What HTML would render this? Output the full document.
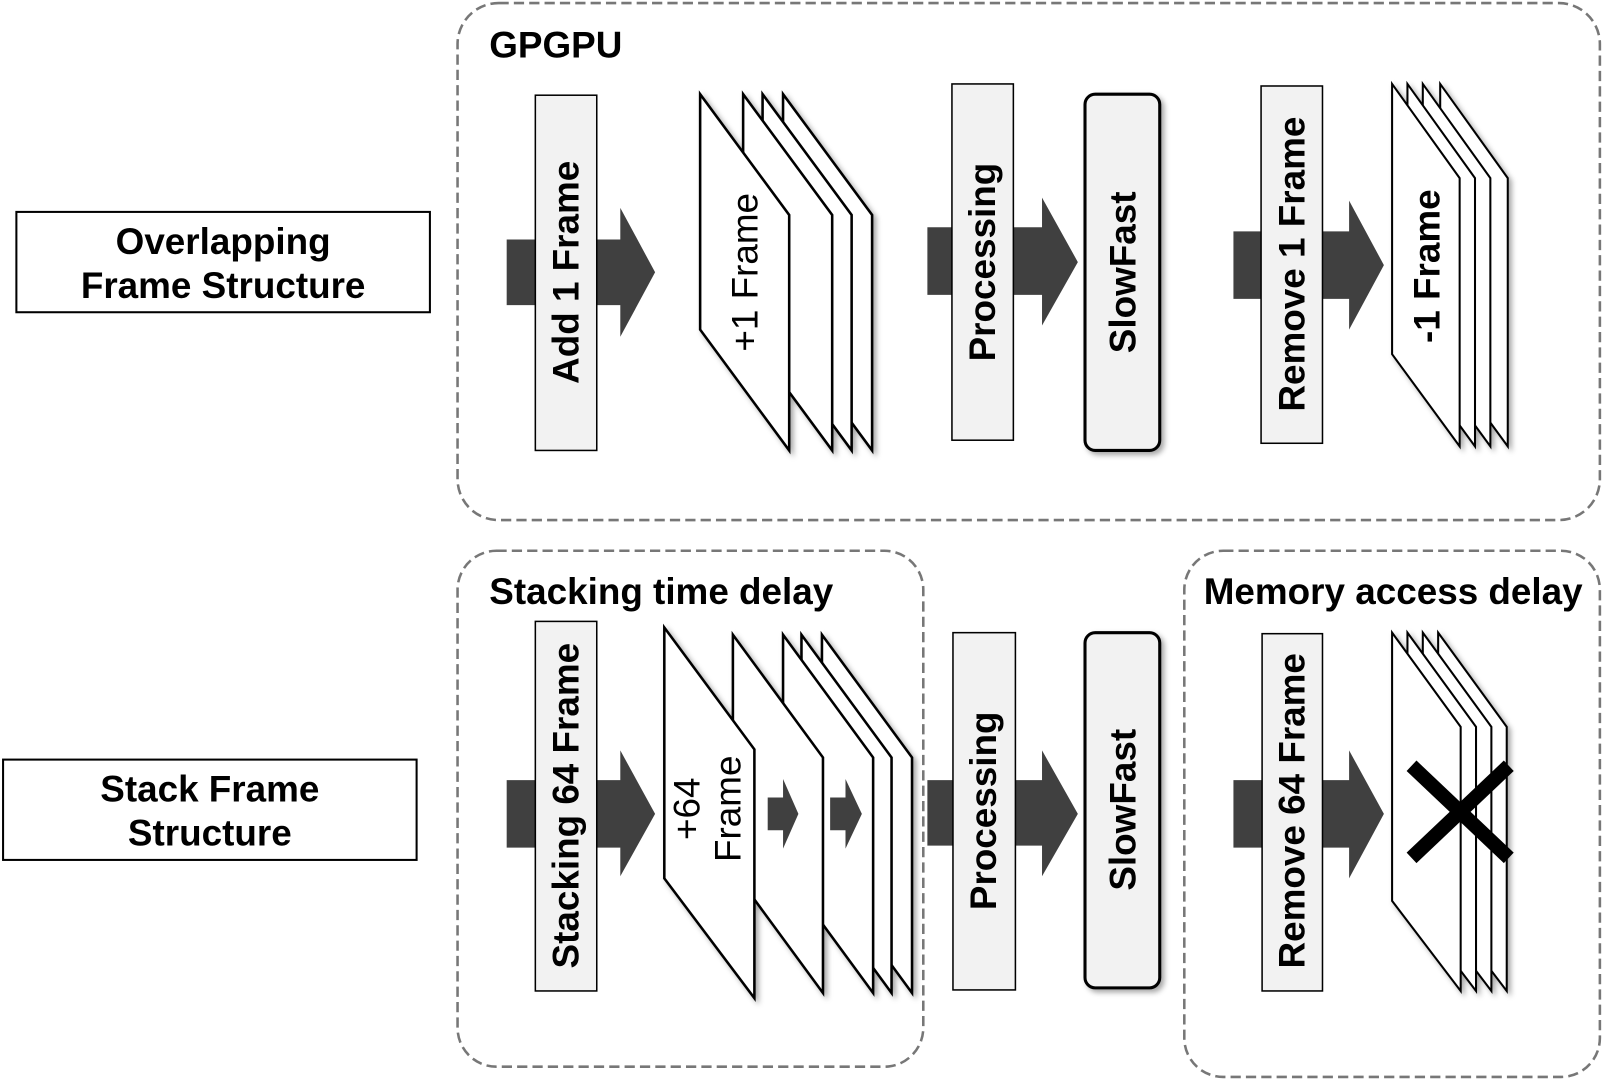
<!DOCTYPE html>
<html><head><meta charset="utf-8"><style>
html,body{margin:0;padding:0;background:#fff;}
svg{display:block;}
text{font-family:"Liberation Sans",Arial,sans-serif;}
.b{font-weight:bold;}
</style></head><body>
<svg width="1605" height="1079" viewBox="0 0 1568 1054" preserveAspectRatio="none" xmlns="http://www.w3.org/2000/svg">
<defs>
<filter id="sh" x="-20%" y="-10%" width="150%" height="130%"><feDropShadow dx="3" dy="3" stdDeviation="2.5" flood-color="#000" flood-opacity="0.35"/></filter>
</defs>
<g fill="none" stroke="#777" stroke-width="2.5" stroke-dasharray="10,5">
<rect x="447" y="3" width="1116" height="505" rx="40"/>
<rect x="447" y="538" width="455" height="504" rx="38"/>
<rect x="1157" y="538" width="406" height="514" rx="38"/>
</g>
<rect x="16" y="207" width="404" height="98" fill="#fff" stroke="#000" stroke-width="2"/>
<text class="b" x="218" y="248" font-size="36" text-anchor="middle">Overlapping</text>
<text class="b" x="218" y="291" font-size="36" text-anchor="middle">Frame Structure</text>
<rect x="3" y="742" width="404" height="98" fill="#fff" stroke="#000" stroke-width="2"/>
<text class="b" x="205" y="783" font-size="36" text-anchor="middle">Stack Frame</text>
<text class="b" x="205" y="826" font-size="36" text-anchor="middle">Structure</text>
<text class="b" x="478" y="56" font-size="36">GPGPU</text>
<text class="b" x="478" y="590" font-size="36">Stacking time delay</text>
<text class="b" x="1176" y="590" font-size="36">Memory access delay</text>

<g fill="#404040">
<polygon points="495,234 606,234 606,203 640,266 606,329 606,298 495,298"/>
<polygon points="906,222 1018,222 1018,193 1053,256 1018,318 1018,288 906,288"/>
<polygon points="1205,226 1318,226 1318,196 1352,259 1318,322 1318,292 1205,292"/>
<polygon points="495,762 606,762 606,733 640,795 606,856 606,828 495,828"/>
<polygon points="906,762 1018,762 1018,733 1053,795 1018,856 1018,826 906,826"/>
<polygon points="1205,762 1318,762 1318,733 1352,795 1318,858 1318,828 1205,828"/>
</g>

<g stroke="#000" stroke-width="2.5" fill="#fff" filter="url(#sh)">
<polygon points="765,92 852,210 852,440 765,322"/>
<polygon points="745,92 832,210 832,440 745,322"/>
<polygon points="726,92 813,210 813,440 726,322"/>
<polygon points="684,92 771,210 771,440 684,322"/>
</g>
<text x="728" y="266" font-size="36" text-anchor="middle" dominant-baseline="central" transform="rotate(-90 728 266)">+1 Frame</text>

<g stroke="#000" stroke-width="2" fill="#fff" filter="url(#sh)">
<polygon points="1407,82 1473,174 1473,436 1407,346"/>
<polygon points="1390,82 1456,174 1456,436 1390,346"/>
<polygon points="1375,82 1441,174 1441,436 1375,346"/>
<polygon points="1360,82 1426,174 1426,436 1360,346"/>
</g>
<text class="b" x="1394" y="260" font-size="36" text-anchor="middle" dominant-baseline="central" transform="rotate(-90 1394 260)">-1 Frame</text>

<g stroke="#000" stroke-width="2.5" fill="#fff" filter="url(#sh)">
<polygon points="803,620 891,740 891,970 803,850"/>
<polygon points="783,620 871,740 871,970 783,850"/>
<polygon points="765,620 853,740 853,970 765,850"/>
<polygon points="716,620 804,740 804,970 716,850"/>
<polygon points="649,613 737,732 737,975 649,858"/>
</g>
<g fill="#404040">
<polygon points="750,779 765,779 765,761 780,795 765,829 765,811 750,811"/>
<polygon points="811,779 826,779 826,761 842,795 826,829 826,811 811,811"/>
</g>
<g transform="rotate(-90 690 790)">
<text x="690" y="771" font-size="36" text-anchor="middle" dominant-baseline="central">+64</text>
<text x="690" y="811" font-size="36" text-anchor="middle" dominant-baseline="central">Frame</text>
</g>

<g stroke="#000" stroke-width="2" fill="#fff" filter="url(#sh)">
<polygon points="1405,618 1472,710 1472,968 1405,880"/>
<polygon points="1390,618 1457,710 1457,968 1390,880"/>
<polygon points="1375,618 1442,710 1442,968 1375,880"/>
<polygon points="1360,618 1427,710 1427,968 1360,880"/>
</g>
<g stroke="#000" stroke-width="14">
<line x1="1379" y1="748" x2="1474" y2="838"/>
<line x1="1474" y1="748" x2="1379" y2="838"/>
</g>

<g fill="#f2f2f2" stroke="#000" stroke-width="1.5">
<rect x="523" y="93" width="60" height="347"/>
<rect x="930" y="82" width="60" height="348"/>
<rect x="1232" y="84" width="60" height="349"/>
<rect x="523" y="607" width="60" height="361"/>
<rect x="931" y="618" width="61" height="349"/>
<rect x="1233" y="619" width="59" height="349"/>
</g>
<g fill="#f2f2f2" stroke="#000" stroke-width="3" filter="url(#sh)">
<rect x="1060" y="92" width="73" height="348" rx="10"/>
<rect x="1060" y="618" width="73" height="347" rx="10"/>
</g>
<g class="b" font-size="36" text-anchor="middle" dominant-baseline="central">
<text x="553" y="266" transform="rotate(-90 553 266)">Add 1 Frame</text>
<text x="960" y="256" transform="rotate(-90 960 256)">Processing</text>
<text x="1097" y="266" transform="rotate(-90 1097 266)">SlowFast</text>
<text x="1262" y="258" transform="rotate(-90 1262 258)">Remove 1 Frame</text>
<text x="553" y="787" transform="rotate(-90 553 787)">Stacking 64 Frame</text>
<text x="961" y="792" transform="rotate(-90 961 792)">Processing</text>
<text x="1097" y="791" transform="rotate(-90 1097 791)">SlowFast</text>
<text x="1262" y="792" transform="rotate(-90 1262 792)">Remove 64 Frame</text>
</g>
</svg>
</body></html>
